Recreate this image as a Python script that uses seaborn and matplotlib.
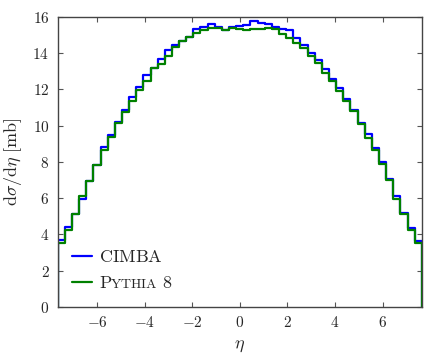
import numpy as np
import pandas as pd
import seaborn as sns
import matplotlib.pyplot as plt
from matplotlib.offsetbox import HPacker, TextArea

# bin layout: 51 bins of width 0.3, centred on multiples of 0.3
bin_width = 0.3
eta_edges = np.round(np.arange(-25.5, 26.5, 1.0) * bin_width, 3)

# d sigma / d eta [mb], read bin by bin from the figure (left to right)
cimba = [3.70, 4.40, 5.15, 5.97, 6.95, 7.83, 8.82, 9.46, 10.22, 10.87, 11.60,
         12.15, 12.81, 13.15, 13.66, 14.19, 14.44, 14.67, 14.88, 15.31, 15.42,
         15.61, 15.42, 15.26, 15.42, 15.50, 15.54, 15.78, 15.64, 15.62, 15.43,
         15.31, 15.25, 14.80, 14.44, 14.00, 13.59, 13.11, 12.56, 12.06, 11.44,
         10.88, 10.15, 9.56, 8.78, 7.97, 7.05, 6.10, 5.21, 4.37, 3.65]
pythia = [3.55, 4.25, 5.15, 6.12, 6.95, 7.81, 8.64, 9.37, 10.16, 10.77, 11.34,
          11.95, 12.46, 13.15, 13.40, 13.82, 14.34, 14.67, 14.88, 15.09, 15.24,
          15.37, 15.36, 15.27, 15.37, 15.30, 15.25, 15.32, 15.32, 15.36, 15.32,
          15.06, 14.85, 14.55, 14.25, 13.81, 13.46, 12.89, 12.45, 11.91, 11.36,
          10.81, 10.07, 9.30, 8.64, 7.86, 6.98, 5.98, 5.14, 4.25, 3.52]


def outline(values, name):
    # step outline that drops to zero at both ends
    x = np.concatenate([[eta_edges[0]], eta_edges, [eta_edges[-1]]])
    y = np.concatenate([[0.0], values, [values[-1], 0.0]])
    return pd.DataFrame({'eta': x, 'xsec': y, 'gen': name})


df = pd.concat([outline(cimba, 'CIMBA'), outline(pythia, 'Pythia')],
               ignore_index=True)

sns.set_style('ticks')
plt.rcParams['mathtext.fontset'] = 'cm'
plt.rcParams['font.family'] = ['DejaVu Serif']

fig = plt.figure(figsize=(4.44, 3.55), dpi=100)
ax = fig.add_axes([0.130, 0.135, 0.820, 0.818])

sns.lineplot(data=df, x='eta', y='xsec', hue='gen',
             palette={'CIMBA': '#0000ff', 'Pythia': '#008000'},
             estimator=None, sort=False, drawstyle='steps-post',
             linewidth=1.6, ax=ax)

ax.set_xlim(eta_edges[0], eta_edges[-1])
ax.set_ylim(0, 16)
ax.set_xticks(np.arange(-6, 7, 2))
ax.set_yticks(np.arange(0, 17, 2))
ax.set_xticklabels([f'${v}$' for v in range(-6, 7, 2)])
ax.set_yticklabels([f'${v}$' for v in range(0, 17, 2)])
ax.tick_params(direction='in', top=True, right=True, length=3.5,
               width=0.8, color='#555555', labelsize=11, pad=6)
for s in ax.spines.values():
    s.set_color('#444444')
    s.set_linewidth(1.0)

ax.set_xlabel(r'$\eta$', fontsize=13, labelpad=4)
ax.set_ylabel(r'$\mathrm{d}\sigma/\mathrm{d}\eta\ [\mathrm{mb}]$', fontsize=13,
              labelpad=6)

handles, _ = ax.get_legend_handles_labels()
leg = ax.legend(handles, [r'$\mathrm{CIMBA}$', r'$\mathrm{P}$'],
                loc='lower left', bbox_to_anchor=(-0.006, -0.005),
                frameon=False, fontsize=13, handlelength=1.1,
                handletextpad=0.4, labelspacing=0.45)

# small caps for Pythia: swap the label for "P" + smaller "YTHIA" + " 8"
row = leg._legend_handle_box.get_children()[0].get_children()[1]
small_caps = HPacker(children=[
    TextArea(r'$\mathrm{P}$', textprops=dict(fontsize=13)),
    TextArea(r'$\mathrm{YTHIA}$', textprops=dict(fontsize=10)),
    TextArea(r'$\ \mathrm{8}$', textprops=dict(fontsize=13)),
], pad=0, sep=-1.2, align='baseline')
small_caps.set_figure(fig)
row._children[1] = small_caps

fig.savefig('out.png', dpi=100)
